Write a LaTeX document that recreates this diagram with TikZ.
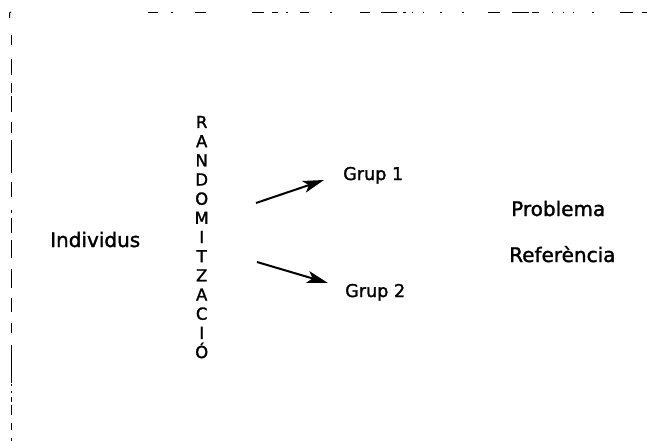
\documentclass[tikz,border=0pt]{standalone}
\usepackage{fontspec}
\setmainfont{DejaVu Sans}[FakeBold=1.6]
\usetikzlibrary{arrows.meta}
\begin{document}
\begin{tikzpicture}[x=1pt,y=-1pt,
  lbl/.style={inner sep=0pt,anchor=base west,font=\fontsize{20}{24}\selectfont},
  grp/.style={inner sep=0pt,anchor=base west,font=\fontsize{17.6}{21}\selectfont},
  letter/.style={inner sep=0pt,anchor=base,font=\fontsize{16.5}{19}\selectfont},
  arr/.style={line width=2pt,-{Stealth[length=21pt,width=12pt,inset=5pt]}},
  edge/.style={line width=1.4pt}]
\useasboundingbox (0,0) rectangle (647,441);
% broken frame: left side
\foreach \a/\b in {35/45,59/75,83/93,96/112,122/133,140/173,182/197,210/213,218/225,
  220/233,240/258,269/288,298/312,323/333,345/383,384/386,391/393,397/402,405/415,423/430,438/441}
  \draw[edge] (11.5,\a) -- (11.5,\b);
\draw[line width=1pt] (9.5,18) -- (9.5,13) -- (11,12);
% broken frame: top side
\foreach \a/\b in {148/158,171/172.5,195/206,252/264,272/278,286/288,300/309,330/331.5,360/370,
  381/397,403/406,412/413,423/424,440/442,462/463.5,488/500,512/529,532/539,552/553,563/564,
  573/574,592/594,620/633,642/647}
  \draw[line width=1.1pt] (\a,12.7) -- (\b,12.7);
% labels
\node[lbl] (ind) at (50,247) {Individus};
\node[grp] (g1) at (343,180) {Grup 1};
\node[grp] (g2) at (345,297) {Grup 2};
\node[lbl] (prob) at (511,216) {Problema};
\node[lbl] (ref) at (509,262) {Referència};
% vertical word
\foreach \l [count=\i] in {R,A,N,D,O,M,I,T,Z,A,C,I,Ó}
  \node[letter] (r\i) at (201.7,{128+19.17*(\i-1)}) {\l};
% arrows towards the groups
\coordinate (a1s) at (256,203);
\coordinate (a1e) at (324,180);
\coordinate (a2s) at (257,262);
\coordinate (a2e) at (328,283);
\draw[arr] (a1s) -- (a1e);
\draw[arr] (a2s) -- (a2e);
\end{tikzpicture}
\end{document}
